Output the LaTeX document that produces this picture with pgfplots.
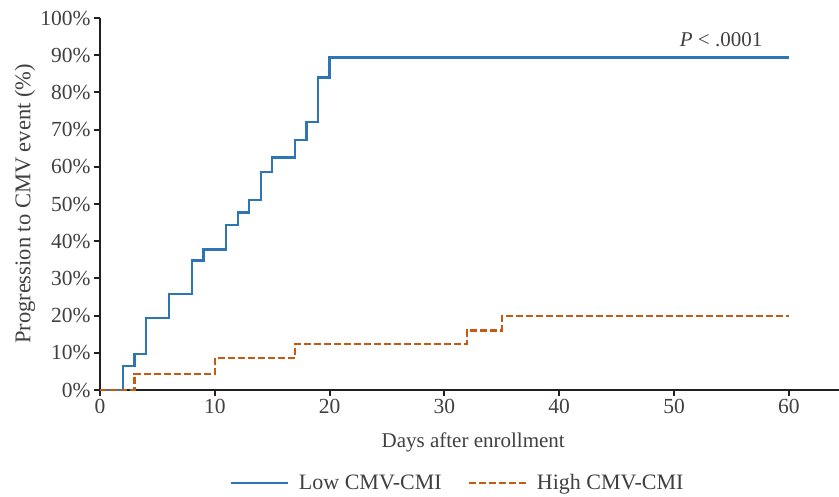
\documentclass[border=0pt]{standalone}
\usepackage{fontspec}
\setmainfont{Liberation Serif}
\usepackage{pgfplots}
\pgfplotsset{compat=1.18}
\definecolor{lowblue}{RGB}{46,117,182}
\definecolor{highorange}{RGB}{197,90,17}
\definecolor{axisgray}{RGB}{35,31,32}
\definecolor{textgray}{RGB}{64,64,64}

\begin{document}
\begin{tikzpicture}
\useasboundingbox (-100pt,-106pt) rectangle (739pt,390pt);
\begin{axis}[
    scale only axis,
    width=739pt,
    height=372pt,
    xmin=0, xmax=64.37,
    ymin=0, ymax=100,
    axis lines*=left,
    axis line style={axisgray, line width=2.2pt, -},
    tick align=outside,
    major tick length=6pt,
    tick style={axisgray, line width=2pt},
    xtick={0,10,20,30,40,50,60},
    ytick={0,10,...,100},
    yticklabel={\pgfmathprintnumber{\tick}\%},
    /pgf/number format/assume math mode=true,
    ticklabel style={font=\fontsize{21.5}{24}\selectfont, text=textgray},
    xlabel={Days after enrollment},
    ylabel={Progression to CMV event (\%)},
    xlabel style={at={(rel axis cs:0.505,0)}, anchor=center, yshift=-52pt,
        font=\fontsize{21}{24}\selectfont, text=textgray},
    ylabel style={at={(rel axis cs:0,0.5)}, anchor=center, yshift=75pt,
        font=\fontsize{22.5}{25}\selectfont, text=textgray},
    legend style={at={(rel axis cs:0.4838,-0.25)}, anchor=center, draw=none,
        legend columns=2, font=\fontsize{22}{25}\selectfont, text=textgray,
        /tikz/every odd column/.append style={column sep=8pt},
        /tikz/every even column/.append style={column sep=24pt}},
    legend cell align=left,
    legend image code/.code={\draw[#1] (0pt,0pt) -- (57pt,0pt);},
    clip=false,
]
\addplot[const plot, lowblue, line width=2.4pt] coordinates {
    (0,0) (2,6.45) (3,9.68) (4,19.35) (6,25.8) (8,34.8) (9,37.8)
    (11,44.4) (12,47.7) (13,51.1) (14,58.6) (15,62.5) (17,67.2)
    (18,72.0) (19,84.0) (20,89.4) (60,89.4)
};
\addlegendentry{Low CMV-CMI}
\addplot[const plot, highorange, line width=2.2pt, dash pattern=on 7pt off 3pt] coordinates {
    (0,0) (3,4.35) (10,8.7) (17,12.3) (32,16.0) (35,19.8) (60,19.8)
};
\addlegendentry{High CMV-CMI}
\node[font=\fontsize{21}{24}\selectfont, text=textgray] at (axis cs:54.1,94.3) {\textit{P} < .0001};
\end{axis}
\end{tikzpicture}
\end{document}
